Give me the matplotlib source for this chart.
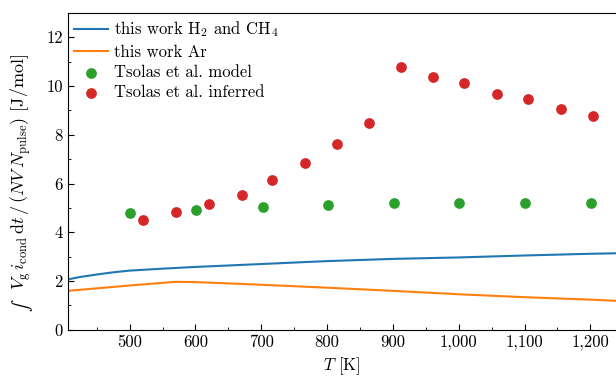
import matplotlib
matplotlib.use("Agg")
from matplotlib import pyplot as plt
from matplotlib.ticker import FuncFormatter, MultipleLocator

plt.rcParams['font.family'] = ['cmr10', 'DejaVu Serif']
plt.rcParams['mathtext.fontset'] = 'cm'
plt.rcParams['axes.unicode_minus'] = False
plt.rcParams['axes.formatter.use_mathtext'] = True
plt.rcParams['font.size'] = 12

# this work, computed curves
T_h2 = [406, 425, 450, 475, 500, 550, 600, 700, 800, 900, 1000, 1100, 1200, 1240]
E_h2 = [2.07, 2.17, 2.27, 2.36, 2.43, 2.51, 2.58, 2.70, 2.82, 2.91, 2.97, 3.05, 3.12, 3.14]
T_ar = [406, 500, 570, 600, 700, 800, 900, 1000, 1100, 1200, 1240]
E_ar = [1.60, 1.82, 1.97, 1.96, 1.85, 1.73, 1.60, 1.46, 1.34, 1.24, 1.19]

# Tsolas et al.
T_model = [501, 601, 702, 802, 902, 1001, 1101, 1201]
E_model = [4.78, 4.92, 5.03, 5.10, 5.22, 5.22, 5.19, 5.22]
T_inf = [521, 571, 620, 670, 717, 766, 815, 864, 912, 961, 1008, 1058, 1106, 1155, 1204]
E_inf = [4.52, 4.85, 5.16, 5.53, 6.15, 6.83, 7.61, 8.47, 10.79, 10.37, 10.12, 9.69, 9.45, 9.04, 8.78]

fig = plt.figure(figsize=(6.16, 3.77), dpi=100)
ax = fig.add_axes([0.110, 0.125, 0.89, 0.841])

ax.plot(T_h2, E_h2, color='#1f77b4', lw=1.5, label=r'this work H$_2$ and CH$_4$')
ax.plot(T_ar, E_ar, color='#ff7f0e', lw=1.5, label='this work Ar')
ax.scatter(T_model, E_model, s=45, color='#2ca02c', zorder=3, label='Tsolas et al. model')
ax.scatter(T_inf, E_inf, s=45, color='#d62728', zorder=3, label='Tsolas et al. inferred')

ax.set_xlim(406, 1239)
ax.set_ylim(0, 13)
ax.xaxis.set_major_locator(MultipleLocator(100))
ax.xaxis.set_minor_locator(MultipleLocator(50))
ax.yaxis.set_major_locator(MultipleLocator(2))
ax.yaxis.set_minor_locator(MultipleLocator(1))
ax.xaxis.set_major_formatter(FuncFormatter(lambda v, p: '{:,.0f}'.format(v)))
ax.yaxis.set_major_formatter(FuncFormatter(lambda v, p: '{:.0f}'.format(v)))
ax.tick_params(which='both', direction='in', top=False, right=False)
ax.tick_params(which='major', length=4)
ax.tick_params(which='minor', length=2.5)
ax.spines['right'].set_visible(False)

ax.set_xlabel(r'$T$ [K]')
# y label in two pieces so the integral sign stays text-sized
fig.text(0.036, 0.175, '\u222b', family='STIXGeneral', fontsize=13,
         rotation=90, ha='center', va='bottom')
fig.text(0.034, 0.232,
         r'$V_\mathrm{g}\, i_\mathrm{cond}\,\mathrm{d}t\,/\,(NV\,N_\mathrm{pulse})$ [J/mol]',
         fontsize=13, rotation=90, ha='center', va='bottom')

ax.legend(loc='upper left', frameon=False, handlelength=2.0, handletextpad=0.4,
          borderaxespad=0.1, borderpad=0.3, labelspacing=0.3)

fig.savefig('out.png', dpi=100)
